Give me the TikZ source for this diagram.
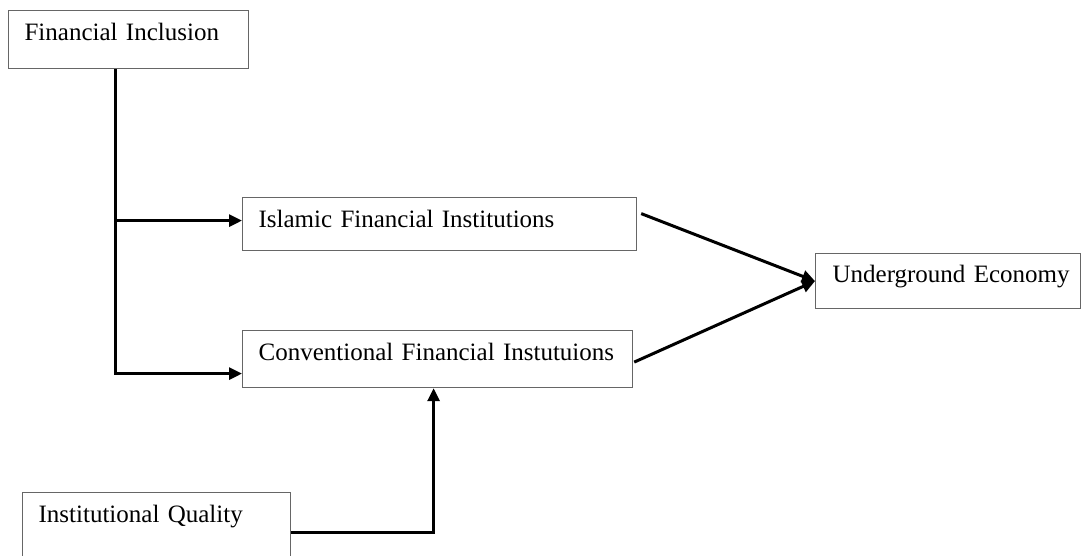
\documentclass[tikz,border=0pt]{standalone}
\usepackage{fontspec}
\setmainfont{Liberation Serif}
\usetikzlibrary{arrows.meta,calc}
\begin{document}
\begin{tikzpicture}[x=1pt,y=-1pt,
  box/.style={draw=black!60, line width=1.2pt, anchor=north west, inner xsep=16pt, inner ysep=0pt,
    align=left, font=\fontsize{25}{29}\selectfont},
  conn/.style={line width=3pt, -{Triangle[length=13pt,width=12pt]}}]
\fill[white] (0,0) rectangle (1081,555);
\useasboundingbox (0,0) rectangle (1081,555);
\clip (0,0) rectangle (1081,555);
\node[box, text width=208pt, text height=30pt, text depth=28pt] (fi) at (8,10) {\mbox{Financial Inclusion}};
\node[box, text width=362pt, text height=30pt, text depth=23pt] (ifi) at (242,197) {\mbox{Islamic Financial Institutions}};
\node[box, text width=358pt, text height=30pt, text depth=27pt] (cfi) at (242,330) {\mbox{Conventional Financial Instutuions}};
\node[box, inner xsep=17pt, text width=231pt, text height=29pt, text depth=26pt] (ue) at (815,253) {\mbox{Underground Economy}};
\node[box, text width=236pt, text height=30pt, text depth=50pt] (iq) at (22,492) {\mbox{Institutional Quality}};
\coordinate (fx) at ($(fi.south)+(-13,0)$);
\coordinate (ifiin) at ($(ifi.west)+(0,-3.5)$);
\coordinate (cfiin) at ($(cfi.west)+(0,14.5)$);
\coordinate (ifiout) at ($(ifi.east)+(4,-10.5)$);
\coordinate (cfiout) at ($(cfi.east)+(1,3)$);
\coordinate (cfibot) at ($(cfi.south)+(-4,0)$);
\draw[conn] (fx) |- (cfiin);
\draw[conn] (fx |- ifiin) -- (ifiin);
\draw[conn] (ifiout) -- (ue.west);
\draw[conn] (cfiout) -- (ue.west);
\draw[conn] (iq.east) -| (cfibot);
\end{tikzpicture}
\end{document}
